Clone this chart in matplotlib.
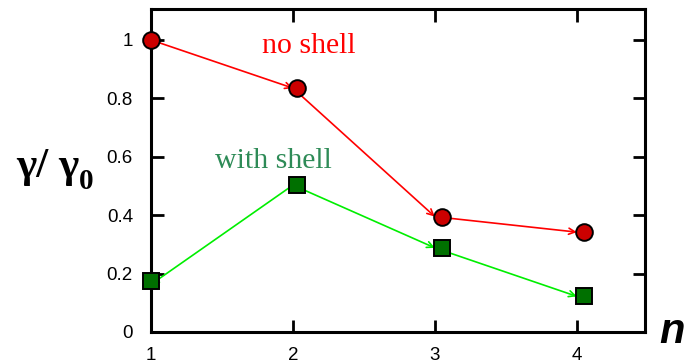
import matplotlib.pyplot as plt

n = [1, 2, 3, 4]
no_shell = [1.0, 0.835, 0.395, 0.342]
with_shell = [0.175, 0.503, 0.288, 0.122]
yticks = [0, 0.2, 0.4, 0.6, 0.8, 1]
ytick_labels = ["0", "0.2", "0.4", "0.6", "0.8", "1"]

# markers sit a touch to the right of the line vertices
marker_dx = [0.0, 0.03, 0.05, 0.05]

fig = plt.figure(figsize=(6.95, 3.63), dpi=100)
ax = fig.add_axes([0.2173, 0.0854, 0.7107, 0.8898])


def arrow_line(x0, y0, x1, y1, color):
    ax.annotate("", xy=(x1, y1), xytext=(x0, y0),
                arrowprops=dict(arrowstyle="->,head_length=0.45,head_width=0.22",
                                color=color, lw=1.2, shrinkA=0, shrinkB=0),
                zorder=2)


for i in range(len(n) - 1):
    arrow_line(n[i], no_shell[i], n[i + 1], no_shell[i + 1], "#ff0000")

arrow_line(n[1], with_shell[1], n[0], with_shell[0] - 0.012, "#00ee00")
for i in range(1, len(n) - 1):
    arrow_line(n[i], with_shell[i], n[i + 1], with_shell[i + 1], "#00ee00")

xm = [a + d for a, d in zip(n, marker_dx)]
ax.plot(xm, no_shell, "o", ms=12, mfc="#cc0000", mec="black", mew=1.4,
        zorder=4, clip_on=False)
ax.plot(xm, with_shell, "s", ms=11, mfc="#007000", mec="black", mew=1.4,
        zorder=4, clip_on=False)

ax.set_xlim(1, 4.48)
ax.set_ylim(0, 1.106)
ax.set_xticks(n)
ax.set_yticks(yticks)
ax.set_yticklabels(ytick_labels)
ax.tick_params(direction="in", length=9, width=2, top=True, right=True,
               labelsize=13.5, labelfontfamily="Liberation Sans")
ax.tick_params(axis="y", pad=13)
ax.tick_params(axis="x", pad=11)
for s in ax.spines.values():
    s.set_linewidth(2.2)

ax.text(2.11, 0.955, "no shell", color="#ff0000", fontsize=21.5,
        family="Liberation Serif", ha="center", va="baseline")
ax.text(1.86, 0.56, "with shell", color="#2e8b57", fontsize=21.5,
        family="Liberation Serif", ha="center", va="baseline")

# y label: gamma / gamma_0, subscript set as its own text
fig.text(0.024, 0.512, "γ/ γ", fontsize=31, fontweight="bold",
         family="Liberation Serif", ha="left", va="baseline")
fig.text(0.114, 0.48, "0", fontsize=21, fontweight="bold",
         family="Liberation Serif", ha="left", va="baseline")
fig.text(0.948, 0.085, "n", fontsize=30, fontweight="bold", style="italic",
         family="Liberation Sans", ha="left", va="center")

fig.savefig("out.png", dpi=100)
